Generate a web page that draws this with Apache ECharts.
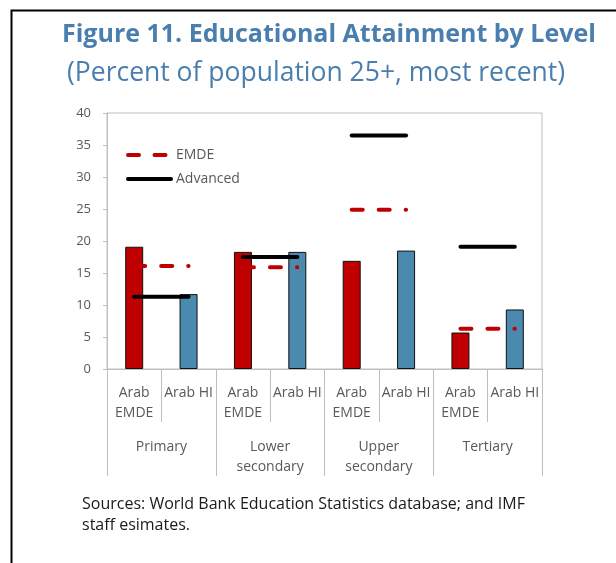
<!DOCTYPE html>
<html>
<head>
<meta charset="utf-8">
<script src="https://cdn.jsdelivr.net/npm/echarts@6/dist/echarts.min.js"></script>
<style>
html,body{margin:0;padding:0;background:#fff;}
#chart{width:616px;height:563px;}
</style>
</head>
<body>
<div id="chart"></div>
<script>
// ---- data ----
var categories = ['Arab\nEMDE', 'Arab HI', 'Arab\nEMDE', 'Arab HI', 'Arab\nEMDE', 'Arab HI', 'Arab\nEMDE', 'Arab HI'];
var groups = ['Primary', 'Lower\nsecondary', 'Upper\nsecondary', 'Tertiary'];
var barValues = [19.1, 11.7, 18.3, 18.3, 16.9, 18.5, 5.7, 9.3];
var emdeValues = [16.1, 15.9, 24.9, 6.3];
var advancedValues = [11.3, 17.5, 36.5, 19.1];
var yTicks = [0, 5, 10, 15, 20, 25, 30, 35, 40];

var FONT = 'Open Sans';
var GRAY = '#595959';
var AXIS = '#BFBFBF';
var RED = '#C00000';
var BLUE = '#4A8AAE';
var TITLE = '#4A7EAE';

function groupSeries(name, values, g, color, style, z) {
  return {
    name: name,
    type: 'line',
    xAxisIndex: 0,
    yAxisIndex: 0,
    symbol: 'none',
    showSymbol: false,
    silent: true,
    z: z,
    itemStyle: { color: color },
    lineStyle: style,
    data: categories.map(function (c, i) { return Math.floor(i / 2) === g ? values[g] : '-'; })
  };
}

var series = [{
  name: 'Bars',
  type: 'bar',
  xAxisIndex: 0,
  yAxisIndex: 0,
  barWidth: 18,
  z: 2,
  itemStyle: {
    color: function (p) { return p.dataIndex % 2 === 0 ? RED : BLUE; },
    borderColor: '#111',
    borderWidth: 1
  },
  data: barValues
}];
for (var g = 0; g < groups.length; g++) {
  series.push(groupSeries('EMDE', emdeValues, g, RED, { color: RED, width: 4, type: [11, 16], cap: 'round' }, 3));
  series.push(groupSeries('Advanced', advancedValues, g, '#000', { color: '#000', width: 4, type: 'solid', cap: 'round' }, 4));
}

// legend icon shapes (rounded bars)
var emdeIcon = 'path://M2,0h11a2,2 0 0 1 0,4h-11a2,2 0 0 1 0,-4z M28.5,0h11a2,2 0 0 1 0,4h-11a2,2 0 0 1 0,-4z M47,0L47,0';
var advIcon = 'path://M2,0h43a2,2 0 0 1 0,4h-43a2,2 0 0 1 0,-4z';

var chart = echarts.init(document.getElementById('chart'), null, { renderer: 'canvas' });
chart.setOption({
  animation: false,
  backgroundColor: '#fff',
  textStyle: { fontFamily: FONT },
  title: [
    { text: 'Figure 11. Educational Attainment by Level', left: 57, top: 17,
      textStyle: { fontFamily: FONT, fontSize: 25, fontWeight: 'bold', color: TITLE } },
    { text: '(Percent of population 25+, most recent)', left: 62, top: 55,
      textStyle: { fontFamily: FONT, fontSize: 26.5, fontWeight: 'normal', color: TITLE } },
    { text: 'Sources: World Bank Education Statistics database; and IMF\nstaff esimates.', left: 77, top: 489,
      textStyle: { fontFamily: FONT, fontSize: 16, fontWeight: 'normal', color: '#1a1a1a', lineHeight: 21 } }
  ],
  graphic: [{
    type: 'rect', left: 9, top: 8, silent: true,
    shape: { x: 0, y: 0, width: 700, height: 700 },
    style: { fill: 'none', stroke: '#000', lineWidth: 2 }
  }],
  legend: {
    data: [
      { name: 'EMDE', icon: emdeIcon, itemStyle: { color: RED } },
      { name: 'Advanced', icon: advIcon, itemStyle: { color: '#000' } }
    ],
    orient: 'vertical',
    left: 126,
    top: 148,
    itemWidth: 47,
    itemHeight: 4,
    itemGap: 10,
    padding: 0,
    symbolKeepAspect: true,
    textStyle: { fontFamily: FONT, fontSize: 14, color: GRAY, padding: [0, 0, 0, -2] },
    selectedMode: false
  },
  grid: {
    left: 107, right: 74, top: 113, bottom: 194,
    show: true, borderColor: AXIS, borderWidth: 1, backgroundColor: 'transparent'
  },
  xAxis: [{
    type: 'category',
    data: categories,
    position: 'bottom',
    boundaryGap: true,
    axisLine: { show: true, lineStyle: { color: AXIS, width: 1 } },
    axisTick: { show: true, interval: 0, length: 53, lineStyle: { color: AXIS } },
    axisLabel: { interval: 0, margin: 14, fontFamily: FONT, fontSize: 14, color: GRAY, lineHeight: 20 },
    splitLine: { show: false }
  }, {
    type: 'category',
    data: groups,
    position: 'bottom',
    boundaryGap: true,
    axisLine: { show: false },
    axisTick: { show: true, interval: 0, length: 107, lineStyle: { color: AXIS } },
    axisLabel: { interval: 0, margin: 68, fontFamily: FONT, fontSize: 14, color: GRAY, lineHeight: 20 },
    splitLine: { show: false }
  }],
  yAxis: {
    type: 'value',
    min: yTicks[0],
    max: yTicks[yTicks.length - 1],
    interval: 5,
    axisLine: { show: true, lineStyle: { color: AXIS } },
    axisTick: { show: true, length: 4, lineStyle: { color: AXIS } },
    axisLabel: { margin: 16, fontFamily: FONT, fontSize: 13, color: GRAY },
    splitLine: { show: false }
  },
  series: series
});
</script>
</body>
</html>
